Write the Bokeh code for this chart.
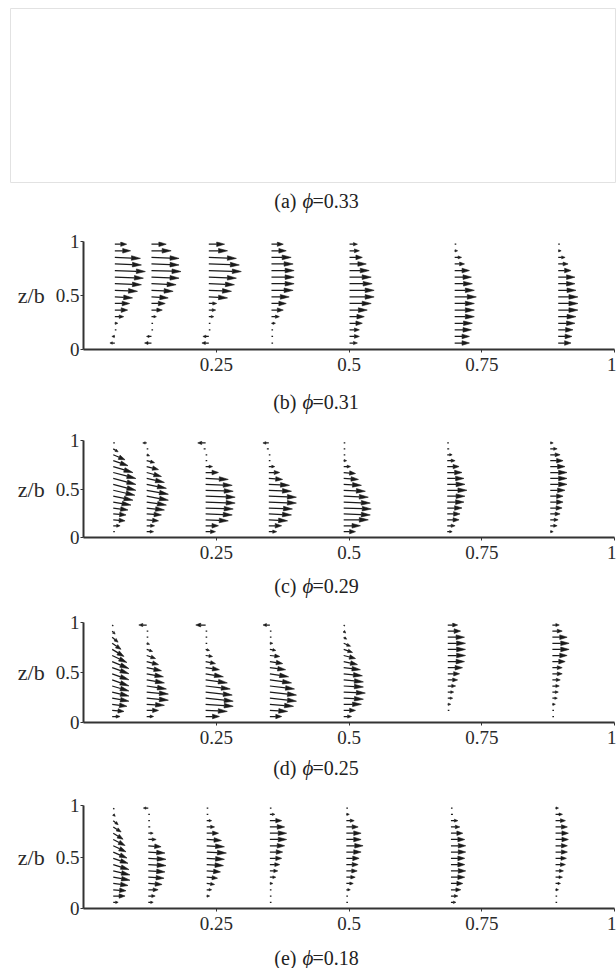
import math
from bokeh.plotting import figure
from bokeh.models import Range1d, FixedTicker, CustomJSTickFormatter
from bokeh.core.properties import value
from bokeh.embed import file_html
from bokeh.resources import INLINE

# ---------------- data ----------------
Z_LEVELS = [0.06, 0.121, 0.182, 0.243, 0.304, 0.365, 0.426, 0.487,
            0.548, 0.609, 0.670, 0.731, 0.792, 0.853, 0.914, 0.975]
X_TICKS = [0.25, 0.5, 0.75, 1.0]
Y_TICKS = [0, 0.5, 1.0]
CAPTION_TAGS = ["(a)", "(b)", "(c)", "(d)", "(e)"]
PHI_VALUES = ["0.33", "0.31", "0.29", "0.25", "0.18"]

# velocity components (horizontal u, vertical w), one list per station, bottom -> top
# panel (b) phi = 0.31
STATIONS_B = [0.059, 0.128, 0.236, 0.354, 0.501, 0.699, 0.894]
U_B = [
    [-5, -3, 1, 3, 9, 13, 15, 18, 23, 27, 29, 31, 27, 26, 16, 12],
    [-7, -5, 1, 1, 5, 11, 14, 17, 22, 25, 28, 30, 28, 28, 20, 15],
    [-7, -6, 1, 1, 5, 7, 8, 19, 23, 26, 28, 33, 31, 28, 19, 16],
    [1, 1, 1, 4, 8, 12, 15, 18, 22, 23, 23, 23, 22, 20, 15, 12],
    [8, 10, 10, 13, 15, 18, 22, 25, 25, 23, 22, 20, 17, 13, 10, 8],
    [15, 15, 17, 18, 20, 20, 20, 22, 20, 18, 17, 15, 10, 7, 3, 1],
    [13, 14, 15, 17, 18, 20, 20, 20, 18, 17, 17, 13, 10, 7, 3, 1],
]
W_B = [
    [0, 0, 0, 0, 0, 0, 0, -1, -1, -1, -1, -1, -1, -1, 0, 0],
    [0, 0, 0, 0, 0, 0, 0, -1, -1, -1, -1, -1, -1, -1, 0, 0],
    [0, 0, 0, 0, 0, 0, 0, -1, -1, -1, -1, -1, -1, -1, 0, 0],
    [0, 0, 0, 0, 0, 0, 0, 0, 0, 0, 0, 0, 0, 0, 0, 0],
    [0, 0, 0, 0, 0, 0, 0, 0, 0, 0, 0, 0, 0, 0, 0, 0],
    [0, 0, 0, 0, 0, 0, 0, 0, 0, 0, 0, 0, 0, 0, 0, 0],
    [0, 0, 0, 0, 0, 0, 0, 0, 0, 0, 0, 0, 0, 0, 0, 0],
]

# panel (c) phi = 0.29
STATIONS_C = [0.056, 0.119, 0.230, 0.349, 0.490, 0.685, 0.879]
U_C = [
    [1, 7, 12, 13, 15, 18, 20, 22, 23, 23, 23, 20, 15, 12, 5, 1],
    [7, 8, 12, 15, 18, 20, 22, 22, 20, 18, 15, 12, 8, 3, 1, -4],
    [10, 13, 23, 27, 28, 30, 30, 28, 27, 23, 13, 7, 1, 1, -2, -8],
    [8, 13, 19, 23, 24, 28, 28, 23, 21, 14, 11, 6, 1, 1, -2, -6],
    [12, 17, 25, 27, 28, 27, 25, 22, 18, 15, 12, 7, 3, 1, 1, 1],
    [5, 8, 12, 13, 15, 17, 18, 20, 18, 17, 15, 12, 8, 5, 2, 1],
    [3, 7, 8, 10, 12, 13, 13, 15, 17, 17, 17, 15, 13, 10, 7, 3],
]
W_C = [
    [0, 0, -1, -1, -2, -3, -4, -5, -6, -6, -6, -6, -5, -5, -3, 0],
    [0, 0, -1, -1, -2, -3, -4, -4, -4, -4, -4, -3, -2, -1, 0, 0],
    [0, 0, -1, -1, -1, -1, -1, -1, -1, -1, 0, 0, 0, 0, 0, 0],
    [0, 0, -1, -1, -1, -1, -1, -1, -1, -1, 0, 0, 0, 0, 0, 0],
    [0, 0, 0, -1, -1, -1, -1, -1, -1, -1, -1, 0, 0, 0, 0, 0],
    [0, 0, 0, 0, 0, 0, 0, 0, 0, 0, 0, 0, 0, 0, 0, 0],
    [0, 0, 0, 0, 0, 0, 0, 0, 0, 0, 0, 0, 0, 0, 0, 0],
]

# panel (d) phi = 0.25
STATIONS_D = [0.054, 0.119, 0.230, 0.351, 0.490, 0.686, 0.883]
U_D = [
    [8, 12, 15, 17, 17, 17, 17, 17, 17, 17, 15, 12, 9, 6, 3, 1],
    [7, 12, 18, 22, 22, 20, 18, 17, 15, 12, 9, 6, 3, 1, 1, -8],
    [14, 22, 28, 28, 27, 25, 22, 18, 14, 10, 7, 4, 1, 1, 1, -10],
    [12, 18, 24, 27, 27, 25, 22, 19, 16, 13, 10, 6, 3, 1, 1, -7],
    [8, 12, 18, 20, 22, 20, 20, 19, 17, 14, 12, 9, 7, 3, 2, 1],
    [0, 1, 3, 5, 6, 8, 10, 12, 15, 17, 18, 18, 18, 17, 13, 10],
    [1, 1, 3, 5, 6, 7, 8, 10, 10, 13, 15, 17, 17, 15, 10, 7],
]
W_D = [
    [0, -1, -2, -3, -4, -5, -6, -6, -6, -7, -7, -7, -6, -5, -3, -1],
    [0, 0, -1, -2, -2, -3, -3, -3, -3, -3, -3, -2, -1, 0, 0, 0],
    [0, -1, -2, -3, -3, -3, -3, -3, -2, -2, -1, -1, 0, 0, 0, 0],
    [0, -1, -2, -3, -3, -3, -3, -3, -2, -2, -1, -1, 0, 0, 0, 0],
    [0, 0, 0, -1, -1, -1, -2, -2, -2, -3, -3, -3, -3, -2, -2, -1],
    [0, 0, 0, 0, 0, 0, 0, 0, 0, 0, 0, 0, 0, 0, 0, 0],
    [0, 0, 0, 0, 0, 0, 0, 0, 0, 0, 0, 0, 0, 0, 0, 0],
]

# panel (e) phi = 0.18
STATIONS_E = [0.056, 0.122, 0.232, 0.351, 0.495, 0.692, 0.889]
U_E = [
    [5, 12, 13, 15, 17, 17, 16, 15, 14, 13, 12, 10, 8, 5, 2, 1],
    [5, 7, 10, 14, 16, 17, 18, 18, 17, 13, 8, 5, 2, 1, 1, -5],
    [0, 3, 5, 8, 11, 14, 17, 18, 20, 18, 15, 12, 8, 5, 1, 1],
    [1, 1, 1, 3, 6, 8, 10, 12, 13, 15, 17, 17, 15, 12, 5, 1],
    [1, 1, 4, 7, 9, 11, 12, 13, 15, 17, 15, 15, 12, 8, 3, 1],
    [5, 7, 10, 12, 14, 15, 14, 14, 15, 15, 14, 12, 9, 7, 2, 1],
    [1, 1, 3, 5, 7, 8, 10, 11, 12, 12, 13, 13, 12, 10, 7, 3],
]
W_E = [
    [0, 0, -1, -2, -3, -4, -5, -5, -6, -6, -6, -6, -5, -4, -2, -1],
    [0, 0, 0, -1, -1, -1, -1, -1, -1, -1, 0, 0, 0, 0, 0, 0],
    [0, 0, 0, -1, -1, -1, -1, -1, -1, -1, -1, 0, 0, 0, 0, 0],
    [0, 0, 0, 0, 0, 0, 0, 0, 0, 0, 0, 0, 0, 0, 0, 0],
    [0, 0, 0, 0, 0, 0, 0, 0, 0, 0, 0, 0, 0, 0, 0, 0],
    [0, 0, 0, 0, 0, 0, 0, 0, 0, 0, 0, 0, 0, 0, 0, 0],
    [0, 0, 0, 0, 0, 0, 0, 0, 0, 0, 0, 0, 0, 0, 0, 0],
]

# ---------------- styling / layout ----------------
FONT = "Liberation Serif"
W_TOTAL = 616
LEFT = 83
RIGHT = 2
FRAME_W = W_TOTAL - LEFT - RIGHT
VEL_TO_X = 1.0 / 539.0     # velocity units -> x data units
INK = "#1a1a1a"


def add_vectors(p, stations, U, W, frame_h):
    sx0, sy0, sx1, sy1 = [], [], [], []
    hxs, hys = [], []
    for x0, us, ws in zip(stations, U, W):
        for z, u, w in zip(Z_LEVELS, us, ws):
            dxd = u * VEL_TO_X
            dyd = w / frame_h
            px = dxd * FRAME_W
            py = dyd * frame_h
            L = math.hypot(px, py)
            if L == 0:
                continue
            ux, uy = px / L, py / L
            if L < 2.5:
                Ld = max(L, 1.6)
                sx0.append(x0)
                sy0.append(z)
                sx1.append(x0 + ux * Ld / FRAME_W)
                sy1.append(z + uy * Ld / frame_h)
                continue
            hl = min(9.0, max(2.5, 0.5 * L))
            hw = min(2.3, 0.3 * hl + 0.4)
            bx, by = ux * (L - hl), uy * (L - hl)
            sx0.append(x0)
            sy0.append(z)
            sx1.append(x0 + bx / FRAME_W)
            sy1.append(z + by / frame_h)
            pts = [(px, py), (bx - uy * hw, by + ux * hw), (bx + uy * hw, by - ux * hw)]
            hxs.append([x0 + a / FRAME_W for a, b in pts])
            hys.append([z + b / frame_h for a, b in pts])
    p.segment(x0=sx0, y0=sy0, x1=sx1, y1=sy1, line_color=INK, line_width=1.25)
    p.patches(xs=hxs, ys=hys, fill_color=INK, line_color=INK, line_width=0.6)


def panel(stations, U, W, top, frame_h, height):
    p = figure(width=W_TOTAL, height=height, x_range=Range1d(0, 1.0), y_range=Range1d(0, 1.0),
               output_backend="svg", toolbar_location=None,
               min_border_left=LEFT, min_border_right=RIGHT, min_border_top=top,
               min_border_bottom=height - top - frame_h)
    p.outline_line_color = None
    p.grid.visible = False
    p.background_fill_color = "white"
    p.border_fill_color = "white"
    xa = p.xaxis[0]
    xa.ticker = FixedTicker(ticks=X_TICKS)
    xa.formatter = CustomJSTickFormatter(code="return String(tick);")
    ya = p.yaxis[0]
    ya.ticker = FixedTicker(ticks=Y_TICKS)
    ya.formatter = CustomJSTickFormatter(code="return String(tick);")
    for ax in (xa, ya):
        ax.axis_line_color = "#333333"
        ax.axis_line_width = 2
        ax.major_tick_line_color = "#333333"
        ax.major_tick_in = 0
        ax.major_tick_out = 3
        ax.minor_tick_line_color = None
        ax.major_label_text_font = FONT
        ax.major_label_text_font_size = "19px"
        ax.major_label_text_color = "#2a2a2a"
    xa.major_label_standoff = 5
    ya.major_label_standoff = 1
    ya.axis_label = "z/b"
    ya.axis_label_orientation = "horizontal"
    ya.axis_label_text_font = FONT
    ya.axis_label_text_font_size = "22px"
    ya.axis_label_text_font_style = "normal"
    ya.axis_label_text_color = "#2a2a2a"
    ya.axis_label_standoff = 8
    add_vectors(p, stations, U, W, frame_h)
    return p


def caption(h, yc, tag, val):
    c = figure(width=W_TOTAL, height=h, x_range=Range1d(0, W_TOTAL), y_range=Range1d(0, h),
               output_backend="svg", toolbar_location=None, min_border=0,
               x_axis_type=None, y_axis_type=None)
    c.outline_line_color = None
    c.background_fill_color = "white"
    c.border_fill_color = "white"
    c.text(x=[296], y=[yc], text=[tag], text_align="right", text_baseline="middle",
           text_font=value(FONT), text_font_size="20px", text_color="#222222")
    c.text(x=[302], y=[yc], text=["\u03d5"], text_align="left", text_baseline="middle",
           text_font=value(FONT), text_font_size="21px", text_font_style="italic",
           text_color="#222222")
    c.text(x=[312], y=[yc], text=["=" + val], text_align="left", text_baseline="middle",
           text_font=value(FONT), text_font_size="20px", text_color="#222222")
    return c


# panel (a): empty framed box
fa = figure(width=W_TOTAL, height=186, x_range=Range1d(0, 1), y_range=Range1d(0, 1),
            output_backend="svg", toolbar_location=None, x_axis_type=None, y_axis_type=None,
            min_border_left=10, min_border_right=1, min_border_top=8, min_border_bottom=4)
fa.outline_line_color = "#e2e2e2"
fa.outline_line_width = 1
fa.background_fill_color = "white"
fa.border_fill_color = "white"

roots = [
    fa,
    caption(39, 25, CAPTION_TAGS[0], PHI_VALUES[0]),
    panel(STATIONS_B, U_B, W_B, 16, 108, 155),
    caption(40, 19, CAPTION_TAGS[1], PHI_VALUES[1]),
    panel(STATIONS_C, U_C, W_C, 20, 97, 148),
    caption(37, 20, CAPTION_TAGS[2], PHI_VALUES[2]),
    panel(STATIONS_D, U_D, W_D, 17, 100, 148),
    caption(37, 23, CAPTION_TAGS[3], PHI_VALUES[3]),
    panel(STATIONS_E, U_E, W_E, 15, 103, 149),
    caption(29, 11, CAPTION_TAGS[4], PHI_VALUES[4]),
]

open("out.html", "w").write(file_html(roots, INLINE))
